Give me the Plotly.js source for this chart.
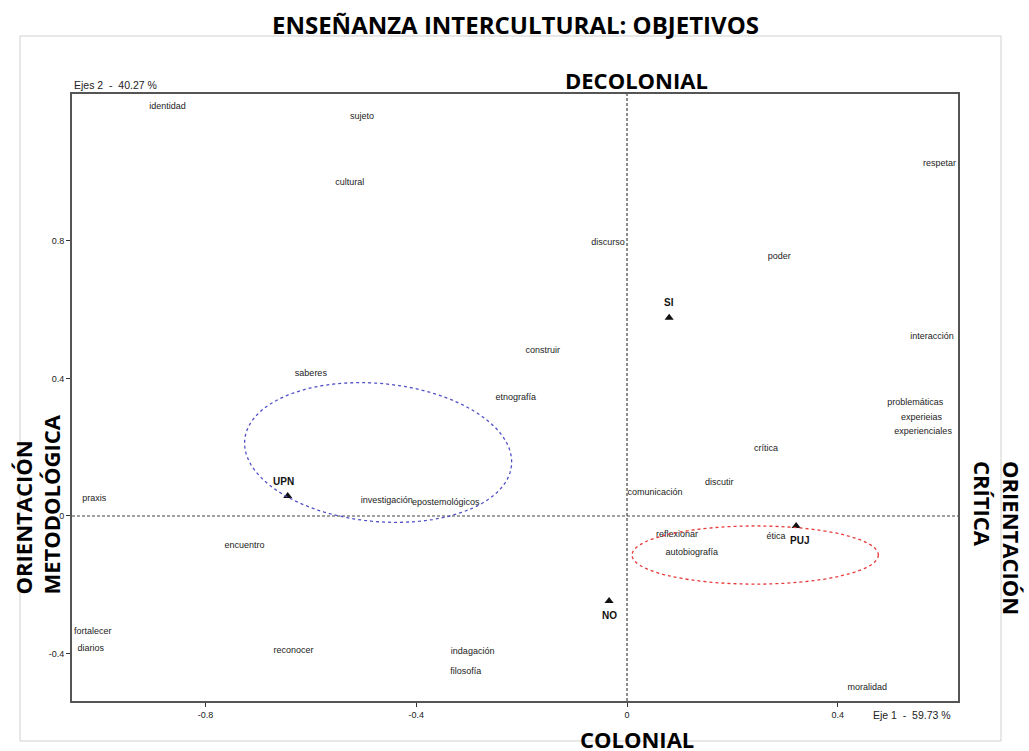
<!DOCTYPE html>
<html>
<head>
<meta charset="utf-8">
<script src="https://cdn.plot.ly/plotly-3.0.1.min.js"></script>
<style>html,body{margin:0;padding:0;background:#fff;}</style>
</head>
<body>
<div id="chart" style="width:1029px;height:751px;"></div>
<script>
// ---- data ----
const wordLabels = ["identidad","sujeto","cultural","discurso","respetar","poder","construir","interacción","saberes","etnografía","problemáticas","experieias","experienciales","crítica","discutir","comunicación","praxis","investigación","epostemológicos","reflexionar","ética","autobiografía","encuentro","fortalecer","diarios","reconocer","indagación","filosofía","moralidad"];
const wordX = [-0.872,-0.503,-0.526,-0.036,0.593,0.289,-0.160,0.579,-0.600,-0.211,0.547,0.559,0.562,0.264,0.175,0.053,-1.011,-0.456,-0.344,0.095,0.283,0.123,-0.726,-1.014,-1.018,-0.633,-0.293,-0.306,0.456];
const wordY = [1.189,1.160,0.968,0.794,1.023,0.753,0.480,0.520,0.413,0.343,0.328,0.285,0.244,0.195,0.096,0.067,0.049,0.044,0.038,-0.055,-0.061,-0.108,-0.087,-0.337,-0.387,-0.392,-0.395,-0.453,-0.500];

const groupLabels = ["SI","UPN","NO","PUJ"];
const groupX = [0.080,-0.644,-0.034,0.321];
const groupY = [0.576,0.058,-0.247,-0.029];
const groupLabelAbove = [true,true,false,false];

const xTickVals = [-0.8,-0.4,0,0.4];
const xTickText = ["-0.8","-0.4","0","0.4"];
const yTickVals = [-0.4,0,0.4,0.8];
const yTickText = ["-0.4","0","0.4","0.8"];

const xLabel = "Eje 1  -  59.73 %";
const yLabel = "Ejes 2  -  40.27 %";
const titleText = "ENSEÑANZA INTERCULTURAL: OBJETIVOS";

// ---- layout geometry ----
const W = 1029, H = 751;
const M = {l:72, r:71, t:94, b:50};
const XR = [-1.0534, 0.6282];
const YR = [-0.5378, 1.2267];
const plotW = W - M.l - M.r, plotH = H - M.t - M.b;
const kx = plotW/(XR[1]-XR[0]), ky = plotH/(YR[1]-YR[0]);

const small = "Liberation Sans, Arial, sans-serif";
const bigFont = "Open Sans, Noto Sans, sans-serif";

function ellipsePath(cx, cy, aPx, bPx, degCW){
  const th = degCW*Math.PI/180;
  let d = "";
  const n = 120;
  for(let i=0;i<=n;i++){
    const t = 2*Math.PI*i/n;
    const px = aPx*Math.cos(t), py = bPx*Math.sin(t);
    const X = px*Math.cos(th) - py*Math.sin(th);
    const Y = px*Math.sin(th) + py*Math.cos(th);
    const x = cx + X/kx, y = cy - Y/ky;
    d += (i===0?"M ":" L ") + x.toFixed(5) + "," + y.toFixed(5);
  }
  return d + " Z";
}

const traces = [
  {
    type:"scatter", mode:"text",
    x: wordX, y: wordY, text: wordLabels,
    textposition:"middle center",
    textfont:{family:small, size:9, color:"#222"},
    hoverinfo:"text", showlegend:false
  },
  {
    type:"scatter", mode:"markers",
    x: groupX, y: groupY,
    marker:{symbol:"triangle-up", size:8, color:"#111"},
    hoverinfo:"skip", showlegend:false
  }
];

function px2paperX(px){ return (px - M.l)/plotW; }
function px2paperY(py){ return (H - M.b - py)/plotH; }

const groupAnnotations = groupLabels.map((t,i)=>({
  text:t, xref:"x", yref:"y", x:groupX[i], y:groupY[i],
  xanchor:"center", yanchor:"middle", showarrow:false,
  yshift: groupLabelAbove[i] ? 15 : -15,
  xshift: t==="UPN" ? -4 : (t==="PUJ" ? 3 : 0),
  font:{family:small, size:10, color:"#111", weight:"bold"}
}));

const layout = {
  width:W, height:H,
  margin:M,
  paper_bgcolor:"#fff", plot_bgcolor:"#fff",
  showlegend:false,
  xaxis:{
    range:XR, showgrid:false, zeroline:false,
    showline:true, mirror:true, linecolor:"#555", linewidth:2,
    ticks:"outside", ticklen:4, tickwidth:1, tickcolor:"#333",
    tickvals:xTickVals, ticktext:xTickText,
    tickfont:{family:small, size:9, color:"#222"}
  },
  yaxis:{
    range:YR, showgrid:false, zeroline:false,
    showline:true, mirror:true, linecolor:"#555", linewidth:2,
    ticks:"outside", ticklen:4, tickwidth:1, tickcolor:"#333",
    tickvals:yTickVals, ticktext:yTickText,
    tickfont:{family:small, size:9, color:"#222"}
  },
  shapes:[
    {type:"rect", xref:"paper", yref:"paper", layer:"below",
     x0:px2paperX(20), x1:px2paperX(1001), y0:px2paperY(741), y1:px2paperY(36),
     line:{color:"#d0d0d0", width:1}, fillcolor:"rgba(0,0,0,0)"},
    {type:"line", xref:"x", yref:"y", x0:0, x1:0, y0:YR[0], y1:YR[1],
     line:{color:"#444", width:1.2, dash:"3px,2px"}},
    {type:"line", xref:"x", yref:"y", x0:XR[0], x1:XR[1], y0:0, y1:0,
     line:{color:"#444", width:1.2, dash:"3px,2px"}},
    {type:"path", xref:"x", yref:"y", path:ellipsePath(-0.4724, 0.1846, 134, 69, 5.5),
     line:{color:"#5050c8", width:1.3, dash:"dot"}},
    {type:"circle", xref:"x", yref:"y", x0:0.0095, x1:0.477, y0:-0.198, y1:-0.029,
     line:{color:"#e83a3a", width:1.3, dash:"dot"}}
  ],
  annotations:[
    {text:titleText, xref:"paper", yref:"paper", x:px2paperX(515), y:px2paperY(25),
     xanchor:"center", yanchor:"middle", showarrow:false,
     font:{family:bigFont, size:24, color:"#000", weight:"bold"}},
    {text:"DECOLONIAL", xref:"paper", yref:"paper", x:px2paperX(636), y:px2paperY(80),
     xanchor:"center", yanchor:"middle", showarrow:false,
     font:{family:bigFont, size:22, color:"#000", weight:"bold"}},
    {text:"COLONIAL", xref:"paper", yref:"paper", x:px2paperX(637), y:px2paperY(739),
     xanchor:"center", yanchor:"middle", showarrow:false,
     font:{family:bigFont, size:22, color:"#000", weight:"bold"}},
    {text:"ORIENTACIÓN<br>METODOLÓGICA", xref:"paper", yref:"paper", x:px2paperX(36.5), y:px2paperY(505),
     xanchor:"center", yanchor:"middle", showarrow:false, textangle:-90, align:"left",
     font:{family:bigFont, size:22, color:"#000", weight:"bold"}},
    {text:"ORIENTACIÓN<br>CRÍTICA", xref:"paper", yref:"paper", x:px2paperX(998), y:px2paperY(538),
     xanchor:"center", yanchor:"middle", showarrow:false, textangle:90, align:"left",
     font:{family:bigFont, size:22, color:"#000", weight:"bold"}},
    {text:yLabel, xref:"paper", yref:"paper", x:px2paperX(72), y:px2paperY(85),
     xanchor:"left", yanchor:"middle", showarrow:false,
     font:{family:small, size:10.5, color:"#222"}},
    {text:xLabel, xref:"paper", yref:"paper", x:px2paperX(953), y:px2paperY(715),
     xanchor:"right", yanchor:"middle", showarrow:false,
     font:{family:small, size:10.5, color:"#222"}}
  ].concat(groupAnnotations)
};

Plotly.newPlot("chart", traces, layout, {displayModeBar:false, staticPlot:true});
</script>
</body>
</html>
